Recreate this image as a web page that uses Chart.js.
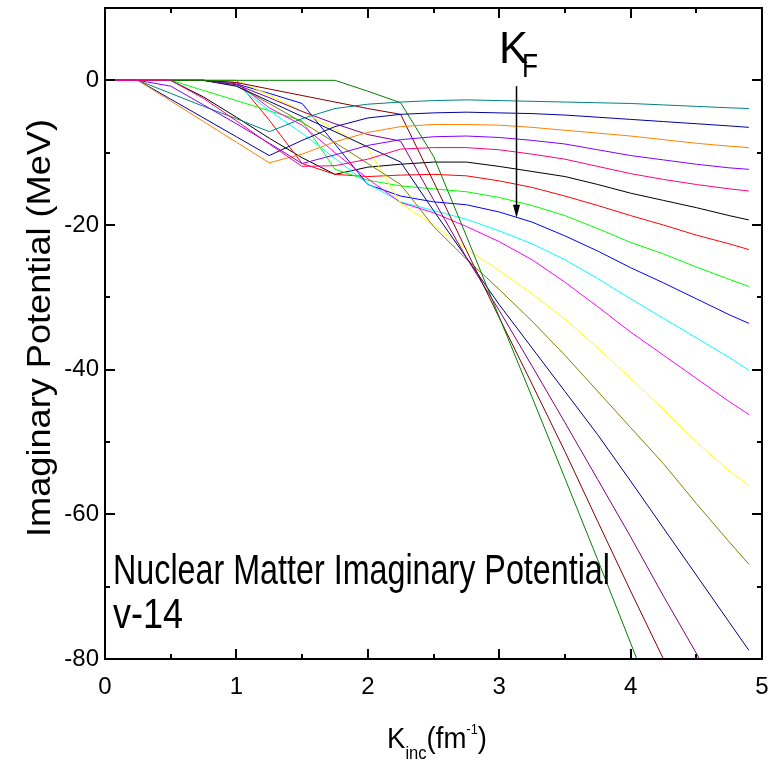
<!DOCTYPE html>
<html>
<head>
<meta charset="utf-8">
<script src="https://cdn.jsdelivr.net/npm/chart.js@4.4.1/dist/chart.umd.min.js"></script>
<style>
  html, body { margin: 0; padding: 0; background: #fff; }
</style>
</head>
<body>
<canvas id="chart" width="769" height="765"></canvas>
<script>
/* ---------- data ---------- */
const kInc = [0, 0.25, 0.5, 0.75, 1, 1.25, 1.5, 1.75, 2, 2.25, 2.5, 2.75, 3, 3.25, 3.5, 3.75, 4, 4.25, 4.5, 4.75, 4.9];

const xTicks = [0, 1, 2, 3, 4, 5];
const xMinor = [0.5, 1.5, 2.5, 3.5, 4.5];
const yTicks = [-80, -60, -40, -20, 0];
const yMinor = [-70, -50, -30, -10];

// imaginary potential (MeV) for each density, in plotting order
const wBlack      = [0, 0, 0, -2.3, -5.1, -8.0, -10.7, -13.0, -12.0, -11.6, -11.3, -11.3, -11.9, -12.6, -13.3, -14.4, -15.6, -16.6, -17.6, -18.7, -19.3];
const wRed        = [0, 0, 0, 0, 0, -5.5, -11.5, -13.0, -13.3, -13.1, -13.0, -13.2, -13.9, -14.8, -16.0, -17.3, -18.7, -20.0, -21.4, -22.6, -23.4];
const wGreen      = [0, 0, 0, -1.4, -2.8, -4.2, -5.6, -12.3, -13.8, -14.6, -15.0, -15.4, -16.2, -17.3, -18.7, -20.5, -22.4, -24.0, -25.8, -27.5, -28.5];
const wBlue       = [0, 0, 0, 0, -0.5, -1.8, -3.2, -8.8, -14.4, -16.0, -16.8, -17.2, -18.2, -19.6, -21.5, -23.6, -25.9, -28.0, -30.2, -32.4, -33.6];
const wCyan       = [0, 0, 0, 0, -0.6, -4.2, -7.3, -10.8, -14.3, -16.8, -18.0, -19.2, -20.8, -22.6, -24.8, -27.4, -30.2, -32.9, -35.6, -38.3, -40.1];
const wMagenta    = [0, 0, 0, 0, -0.3, -3.8, -6.2, -10.0, -13.6, -16.9, -18.3, -20.2, -22.3, -24.8, -27.9, -31.3, -34.8, -38.0, -41.2, -44.4, -46.2];
const wYellow     = [0, 0, 0, 0, 0, -2.0, -4.3, -6.8, -9.4, -17.0, -20.0, -23.3, -26.3, -29.5, -33.0, -37.0, -41.2, -45.5, -50.0, -54.0, -56.0];
const wDarkYellow = [0, 0, 0, 0, -0.8, -3.2, -5.8, -8.6, -11.5, -14.4, -20.2, -24.7, -28.9, -33.3, -38.0, -43.0, -48.0, -53.0, -58.5, -63.8, -66.9];
const wNavy       = [0, 0, 0, 0, -0.8, -2.9, -5.0, -7.1, -9.2, -11.3, -18.0, -24.5, -31.0, -37.0, -43.0, -49.0, -55.4, -61.9, -68.4, -74.9, -78.8];
const wPurple     = [0, 0, 0, 0, -0.6, -2.4, -4.3, -6.0, -7.5, -8.4, -16.5, -24.5, -31.8, -39.5, -47.3, -55.2, -63.1, -71.3, -79.2, -87.5, -92.5];
const wWine       = [0, 0, 0, 0, -0.3, -1.2, -2.1, -3.0, -3.9, -4.7, -14.0, -23.5, -32.8, -42.0, -51.3, -61.0, -70.6, -80.0, -89.5, -99.0, -104.7];
const wOlive      = [0, 0, 0, 0, 0, 0, 0, 0, -1.5, -3.1, -10.5, -21.5, -32.7, -43.8, -55.0, -66.3, -77.8, -89.3, -100.8, -112.0, -119.0];
const wDarkCyan   = [0, 0, -1.8, -3.6, -5.3, -7.1, -5.3, -3.9, -3.3, -3.0, -2.8, -2.7, -2.8, -2.9, -3.0, -3.1, -3.2, -3.4, -3.6, -3.8, -3.9];
const wRoyal      = [0, 0, -2.6, -5.2, -7.8, -10.4, -8.3, -6.4, -5.2, -4.7, -4.5, -4.4, -4.5, -4.6, -4.8, -5.1, -5.4, -5.7, -6.0, -6.3, -6.5];
const wOrange     = [0, 0, -2.85, -5.7, -8.55, -11.4, -10.2, -8.5, -7.2, -6.4, -6.1, -6.1, -6.2, -6.5, -6.9, -7.3, -7.7, -8.2, -8.7, -9.1, -9.3];
const wViolet     = [0, 0, -0.8, -3.4, -6.0, -8.7, -11.5, -10.3, -9.0, -8.2, -7.8, -7.7, -7.9, -8.3, -8.8, -9.6, -10.4, -11.0, -11.6, -12.1, -12.3];
const wPink       = [0, 0, 0, -2.5, -5.6, -8.8, -11.9, -11.8, -10.9, -9.5, -9.3, -9.3, -9.6, -10.2, -10.9, -11.9, -12.9, -13.7, -14.4, -15.0, -15.3];

const series = [
  { color: '#000000', values: wBlack },
  { color: '#FF0000', values: wRed },
  { color: '#00FF00', values: wGreen },
  { color: '#0000FF', values: wBlue },
  { color: '#00FFFF', values: wCyan },
  { color: '#FF00FF', values: wMagenta },
  { color: '#FFFF00', values: wYellow },
  { color: '#808000', values: wDarkYellow },
  { color: '#000080', values: wNavy },
  { color: '#800080', values: wPurple },
  { color: '#800000', values: wWine },
  { color: '#008000', values: wOlive },
  { color: '#008080', values: wDarkCyan },
  { color: '#0000A0', values: wRoyal },
  { color: '#FF8000', values: wOrange },
  { color: '#8000FF', values: wViolet },
  { color: '#FF0080', values: wPink }
];

// Fermi momentum marker
const kFermi = 3.13;
const arrowFrom = -0.8;
const arrowTo = -19.0;

const FONT = '"Liberation Sans", Arial, Helvetica, sans-serif';

/* ---------- helpers ---------- */
// draws a row of text runs, squeezed/stretched to a target width
function drawRuns(ctx, runs, x, y, width) {
  let total = 0;
  runs.forEach(r => {
    ctx.font = r.size + 'px ' + FONT;
    r.w = ctx.measureText(r.text).width;
    total += r.w;
  });
  const sx = width ? width / total : 1;
  ctx.save();
  ctx.translate(x, y);
  ctx.scale(sx, 1);
  ctx.textAlign = 'left';
  ctx.textBaseline = 'alphabetic';
  ctx.fillStyle = '#000';
  let cx = 0;
  runs.forEach(r => {
    ctx.font = r.size + 'px ' + FONT;
    ctx.fillText(r.text, cx, r.dy || 0);
    cx += r.w;
  });
  ctx.restore();
}

/* ---------- frame, ticks, labels ---------- */
const framePlugin = {
  id: 'framePlugin',
  afterDraw(chart) {
    const { ctx, chartArea: a, scales: { x, y } } = chart;
    ctx.save();
    ctx.strokeStyle = '#000';
    ctx.lineWidth = 2;
    ctx.strokeRect(a.left, a.top, a.right - a.left, a.bottom - a.top);

    ctx.beginPath();
    const xt = (v, len) => {
      const px = Math.round(x.getPixelForValue(v));
      ctx.moveTo(px, a.bottom); ctx.lineTo(px, a.bottom - len);
      ctx.moveTo(px, a.top); ctx.lineTo(px, a.top + len);
    };
    const yt = (v, len) => {
      const py = Math.round(y.getPixelForValue(v));
      ctx.moveTo(a.left, py); ctx.lineTo(a.left + len, py);
      ctx.moveTo(a.right, py); ctx.lineTo(a.right - len, py);
    };
    xTicks.forEach(v => xt(v, 10));
    xMinor.forEach(v => xt(v, 5));
    yTicks.forEach(v => yt(v, 10));
    yMinor.forEach(v => yt(v, 5));
    ctx.stroke();

    // arrow at k_F
    const ax = Math.round(x.getPixelForValue(kFermi)) + 0.5;
    const ay0 = y.getPixelForValue(arrowFrom);
    const ay1 = y.getPixelForValue(arrowTo);
    ctx.lineWidth = 1.5;
    ctx.beginPath();
    ctx.moveTo(ax, ay0);
    ctx.lineTo(ax, ay1 - 10);
    ctx.stroke();
    ctx.fillStyle = '#000';
    ctx.beginPath();
    ctx.moveTo(ax, ay1);
    ctx.lineTo(ax - 3.5, ay1 - 13);
    ctx.lineTo(ax + 3.5, ay1 - 13);
    ctx.closePath();
    ctx.fill();

    // K_F
    drawRuns(ctx, [{ text: 'K', size: 44 }], 499, 63, 29);
    drawRuns(ctx, [{ text: 'F', size: 34 }], 522, 77, 16);

    // captions inside the plot
    drawRuns(ctx, [{ text: 'Nuclear Matter Imaginary Potential', size: 42 }], 113, 584, 497);
    drawRuns(ctx, [{ text: 'v-14', size: 42 }], 113, 628, 70);

    // x axis title: K_inc(fm^-1)
    drawRuns(ctx, [
      { text: 'K', size: 30 },
      { text: 'inc', size: 18, dy: 11 },
      { text: '(fm', size: 30 },
      { text: '-1', size: 14, dy: -14 },
      { text: ')', size: 30 }
    ], 387, 748, 100);

    // y axis title
    ctx.save();
    ctx.translate(50, 537);
    ctx.rotate(-Math.PI / 2);
    drawRuns(ctx, [{ text: 'Imaginary Potential (MeV)', size: 33 }], 0, 0, 418);
    ctx.restore();

    ctx.restore();
  }
};

/* ---------- chart ---------- */
const datasets = series.map((s, i) => ({
  data: kInc.map((k, j) => ({ x: k, y: s.values[j] })),
  borderColor: s.color,
  backgroundColor: s.color,
  borderWidth: 1,
  pointRadius: 0,
  tension: 0,
  fill: false,
  order: series.length - i
}));

new Chart(document.getElementById('chart').getContext('2d'), {
  type: 'line',
  data: { datasets },
  options: {
    responsive: false,
    animation: false,
    layout: { padding: { top: 8, right: 7, left: 0, bottom: 0 } },
    plugins: { legend: { display: false }, tooltip: { enabled: false } },
    scales: {
      x: {
        type: 'linear',
        min: 0,
        max: 5,
        afterBuildTicks: s => { s.ticks = xTicks.map(v => ({ value: v })); },
        afterFit: s => {
          s.height = 106;
          s.paddingLeft = 0; s.paddingRight = 0;
        },
        grid: { display: false, drawTicks: false },
        border: { display: false },
        ticks: {
          color: '#000',
          font: { family: FONT, size: 24 },
          padding: 14,
          maxRotation: 0,
          autoSkip: false
        }
      },
      y: {
        type: 'linear',
        min: -80,
        max: 10,
        afterBuildTicks: s => { s.ticks = yTicks.map(v => ({ value: v })); },
        afterFit: s => {
          s.width = 105;
          s.paddingTop = 0; s.paddingBottom = 0;
        },
        grid: { display: false, drawTicks: false },
        border: { display: false },
        ticks: {
          color: '#000',
          font: { family: FONT, size: 24 },
          padding: 6,
          autoSkip: false
        }
      }
    }
  },
  plugins: [framePlugin]
});
</script>
</body>
</html>
